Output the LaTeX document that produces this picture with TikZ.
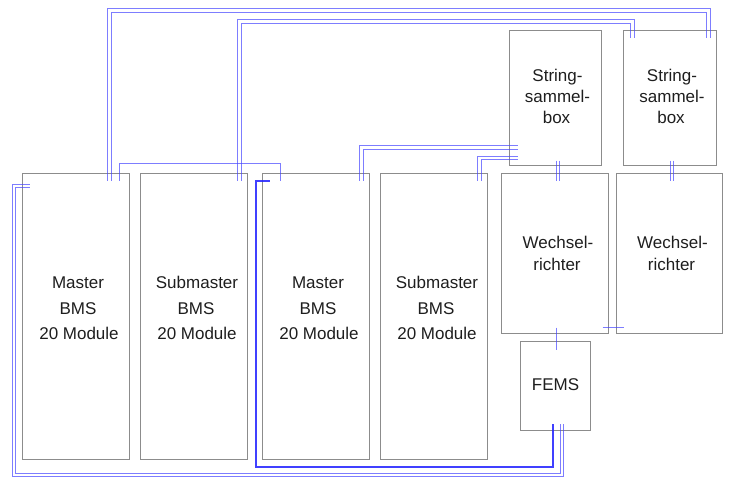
\documentclass[tikz,border=0pt]{standalone}
\usepackage{fontspec}
\setmainfont{Liberation Sans}
\usetikzlibrary{calc}
\definecolor{boxgray}{RGB}{140,140,140}
\definecolor{wireblue}{RGB}{70,70,255}
\definecolor{wiredark}{RGB}{30,30,255}
\definecolor{txtcol}{RGB}{30,30,30}
\begin{document}
\begin{tikzpicture}[x=1pt,y=-1pt,
  box/.style={draw=boxgray, line width=1pt, fill=none, inner sep=0pt, outer sep=0pt},
  lbl/.style={anchor=base, inner sep=0pt, text=txtcol, font=\fontsize{17}{20}\selectfont},
  wire/.style={draw=wireblue, line width=1.4pt, draw opacity=0.7},
  wirethick/.style={draw=wiredark, line width=2pt, draw opacity=0.85}]
\useasboundingbox (0,0) rectangle (734,477);
\begin{scope}[shift={(0.5,0.5)}]
% boxes
\node[box, minimum width=107, minimum height=286] (b1) at (75.5,316) {};
\node[box, minimum width=107, minimum height=286] (b2) at (193.5,316) {};
\node[box, minimum width=107, minimum height=286] (b3) at (315.5,316) {};
\node[box, minimum width=107, minimum height=286] (b4) at (433.5,316) {};
\node[box, minimum width=107, minimum height=160] (w1) at (554.5,253) {};
\node[box, minimum width=106, minimum height=160] (w2) at (669,253) {};
\node[box, minimum width=92, minimum height=135] (s1) at (555,97.5) {};
\node[box, minimum width=93, minimum height=135] (s2) at (669.5,97.5) {};
\node[box, minimum width=70, minimum height=89] (fems) at (555,385.5) {};

% texts
\node[lbl] (b1a) at ($(b1.center)+(2,-28)$) {Master};
\node[lbl] (b1b) at ($(b1.center)+(2,-2.5)$) {BMS};
\node[lbl] (b1c) at ($(b1.center)+(3,23)$) {20 Module};
\node[lbl] (b2a) at ($(b2.center)+(3,-28)$) {Submaster};
\node[lbl] (b2b) at ($(b2.center)+(2,-2.5)$) {BMS};
\node[lbl] (b2c) at ($(b2.center)+(3,23)$) {20 Module};
\node[lbl] (b3a) at ($(b3.center)+(2,-28)$) {Master};
\node[lbl] (b3b) at ($(b3.center)+(2,-2.5)$) {BMS};
\node[lbl] (b3c) at ($(b3.center)+(3,23)$) {20 Module};
\node[lbl] (b4a) at ($(b4.center)+(3,-28)$) {Submaster};
\node[lbl] (b4b) at ($(b4.center)+(2,-2.5)$) {BMS};
\node[lbl] (b4c) at ($(b4.center)+(3,23)$) {20 Module};
\node[lbl] (w1a) at ($(w1.center)+(3,-5)$) {Wechsel-};
\node[lbl] (w1b) at ($(w1.center)+(2,17)$) {richter};
\node[lbl] (w2a) at ($(w2.center)+(3,-5)$) {Wechsel-};
\node[lbl] (w2b) at ($(w2.center)+(2,17)$) {richter};
\node[lbl] (s1a) at ($(s1.center)+(2,-16.5)$) {String-};
\node[lbl] (s1b) at ($(s1.center)+(2,4.5)$) {sammel-};
\node[lbl] (s1c) at ($(s1.center)+(1,25.5)$) {box};
\node[lbl] (s2a) at ($(s2.center)+(2,-16.5)$) {String-};
\node[lbl] (s2b) at ($(s2.center)+(2,4.5)$) {sammel-};
\node[lbl] (s2c) at ($(s2.center)+(1,25.5)$) {box};
\node[lbl] (fa) at ($(fems.center)+(0,4.5)$) {FEMS};

% wires b1 -> s2
\draw[wire] ($(b1.north west)+(85,7)$) |- ($(s2.north east)+(-6,-22)$) -- ($(s2.north east)+(-6,7)$);
\draw[wire] ($(b1.north west)+(89,7)$) |- ($(s2.north east)+(-10,-18)$) -- ($(s2.north east)+(-10,7)$);
% wires b2 -> s2
\draw[wire] ($(b2.north west)+(97,7)$) |- ($(s2.north west)+(11,-11)$) -- ($(s2.north west)+(11,7)$);
\draw[wire] ($(b2.north west)+(101,7)$) |- ($(s2.north west)+(7,-7)$) -- ($(s2.north west)+(7,7)$);
% b1 -> b3
\draw[wire] ($(b1.north west)+(97,7)$) |- ($(b3.north west)+(18,-10)$) -- ($(b3.north west)+(18,7)$);
% b3 -> fems (thick)
\draw[wirethick] ($(b3.north west)+(7,7)$) -- ++(-7,0) -- ++(-7,0) |- ($(fems.south)+(-3,36)$) -- ($(fems.south)+(-3,-7)$);
% b1 -> fems (pair)
\draw[wire] ($(b1.north west)+(7,11)$) -- ++(-17,0) |- ($(fems.south)+(8,46)$) -- ($(fems.south)+(8,-7)$);
\draw[wire] ($(b1.north west)+(7,14)$) -- ++(-14,0) |- ($(fems.south)+(5,43)$) -- ($(fems.south)+(5,-7)$);
% b3 -> s1
\draw[wire] ($(b3.north west)+(97,7)$) |- ($(s1.north west)+(8,115)$);
\draw[wire] ($(b3.north west)+(101,7)$) |- ($(s1.north west)+(8,119)$);
% b4 -> s1
\draw[wire] ($(b4.north west)+(97,7)$) |- ($(s1.north west)+(8,126)$);
\draw[wire] ($(b4.north west)+(101,7)$) |- ($(s1.north west)+(8,129)$);
% s1 -> w1, s2 -> w2
\draw[wire] ($(s1.south)+(1,-5)$) -- ($(w1.north)+(1.5,7)$);
\draw[wire] ($(s1.south)+(4,-5)$) -- ($(w1.north)+(4.5,7)$);
\draw[wire] ($(s2.south)+(0.5,-5)$) -- ($(w2.north)+(1,7)$);
\draw[wire] ($(s2.south)+(3.5,-5)$) -- ($(w2.north)+(4,7)$);
% w1 -> fems, w1 -> w2
\draw[wire] ($(w1.south)+(1.5,-6)$) -- ($(fems.north)+(1,8)$);
\draw[wire] ($(w1.south east)+(-6,-6)$) -- ($(w2.south west)+(7,-6)$);
\end{scope}
\end{tikzpicture}
\end{document}
